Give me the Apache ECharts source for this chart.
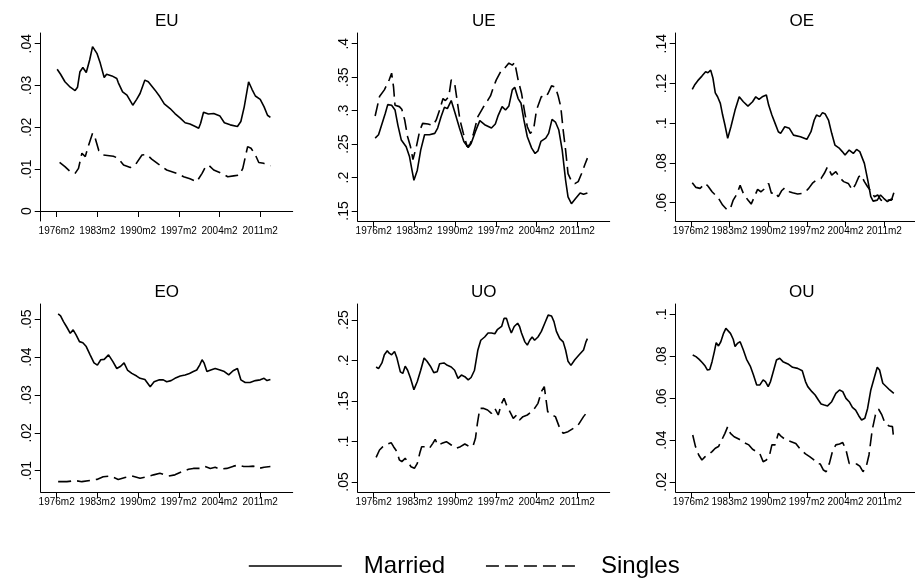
<!DOCTYPE html>
<html>
<head>
<meta charset="utf-8">
<script src="https://cdn.jsdelivr.net/npm/echarts@6/dist/echarts.min.js"></script>
<style>
  html, body { margin: 0; padding: 0; background: #fff; }
  #chart { width: 915px; height: 582px; }
</style>
</head>
<body>
<div id="chart"></div>
<script>
// Monthly transition rates, x = Stata monthly date (1960m1 = 0), y = rate

// Month ticks on every x axis: 1976m2, 1983m2, ... 2011m2
const monthTicks = [193, 277, 361, 445, 529, 613];

// Y tick values per panel
const euTicks = [0, 0.01, 0.02, 0.03, 0.04];
const ueTicks = [0.15, 0.2, 0.25, 0.3, 0.35, 0.4];
const oeTicks = [0.06, 0.08, 0.1, 0.12, 0.14];
const eoTicks = [0.01, 0.02, 0.03, 0.04, 0.05];
const uoTicks = [0.05, 0.1, 0.15, 0.2, 0.25];
const ouTicks = [0.02, 0.04, 0.06, 0.08, 0.1];

// EU
const euMarried = [[194,.0339],[201,.0327],[210,.0309],[221,.0296],[231,.0288],[236,.0296],[241,.0333],[247,.0343],[254,.0331],[261,.0361],[267,.0393],[276,.0377],[283,.0353],[291,.0319],[296,.0327],[307,.0323],[317,.0317],[320,.0307],[329,.0285],[338,.0277],[350,.0253],[358,.0267],[365,.0281],[375,.0313],[382,.0309],[389,.0299],[396,.0289],[406,.0273],[415,.0256],[427,.0245],[437,.0233],[448,.0222],[458,.0211],[468,.0208],[479,.0202],[486,.0198],[490,.0210],[496,.0236],[506,.0232],[517,.0233],[530,.0227],[539,.0211],[551,.0206],[566,.0202],[573,.0214],[580,.0249],[589,.0309],[596,.0291],[603,.0275],[613,.0267],[621,.0249],[628,.0229],[634,.0224]];
const euSingles = [[199,.0116],[210,.0106],[221,.0094],[231,.0090],[238,.0102],[245,.0138],[252,.0130],[258,.0154],[267,.0186],[272,.0176],[280,.0144],[289,.0134],[310,.0131],[320,.0126],[331,.0110],[345,.0104],[355,.0110],[369,.0134],[379,.0135],[389,.0124],[403,.0112],[420,.0098],[441,.0090],[455,.0082],[468,.0077],[482,.0070],[493,.0090],[501,.0108],[508,.0108],[517,.0098],[534,.0090],[546,.0082],[558,.0084],[570,.0086],[577,.0102],[587,.0154],[594,.0150],[603,.0134],[610,.0116],[620,.0114],[634,.0108]];

// UE
const ueMarried = [[196,.259],[203,.264],[210,.280],[217,.296],[222,.309],[230,.308],[237,.301],[243,.278],[250,.256],[260,.246],[267,.231],[272,.211],[276,.196],[283,.211],[290,.241],[298,.264],[308,.264],[319,.266],[325,.274],[332,.291],[339,.305],[345,.303],[353,.315],[361,.296],[370,.274],[379,.254],[388,.245],[394,.251],[403,.269],[412,.285],[422,.279],[436,.274],[444,.280],[450,.293],[458,.306],[465,.301],[472,.307],[479,.331],[484,.335],[491,.318],[497,.311],[503,.286],[510,.261],[519,.244],[526,.236],[532,.240],[538,.254],[548,.259],[554,.266],[561,.287],[568,.283],[575,.271],[582,.241],[589,.196],[594,.171],[601,.161],[610,.169],[619,.177],[626,.175],[630,.174],[634,.177]];
const ueSingles = [[196,.292],[205,.321],[215,.331],[225,.346],[230,.356],[234,.335],[237,.308],[246,.306],[251,.302],[257,.286],[263,.261],[269,.246],[274,.227],[281,.246],[288,.270],[294,.281],[305,.280],[315,.278],[322,.286],[329,.301],[336,.318],[341,.315],[348,.321],[353,.346],[360,.341],[365,.316],[371,.286],[378,.266],[386,.246],[392,.250],[399,.266],[408,.291],[419,.305],[428,.315],[434,.322],[440,.335],[446,.346],[457,.361],[463,.363],[472,.371],[479,.368],[484,.372],[491,.346],[498,.326],[505,.296],[510,.276],[516,.266],[523,.272],[529,.301],[539,.321],[548,.320],[553,.326],[560,.337],[568,.335],[574,.321],[579,.306],[584,.271],[589,.241],[594,.206],[601,.195],[608,.191],[615,.194],[622,.206],[629,.220],[634,.229]];

// OE
const oeMarried = [[196,.1170],[201,.1192],[208,.1214],[217,.1237],[225,.1259],[230,.1254],[236,.1267],[241,.1226],[246,.1153],[251,.1133],[257,.1100],[262,.1041],[267,.0991],[273,.0924],[280,.0982],[289,.1066],[298,.1133],[307,.1108],[317,.1086],[327,.1108],[334,.1133],[341,.1120],[348,.1133],[357,.1142],[362,.1091],[369,.1041],[376,.0999],[383,.0957],[388,.0949],[397,.0982],[407,.0974],[416,.0940],[431,.0932],[445,.0919],[454,.0957],[461,.1016],[466,.1041],[473,.1033],[479,.1053],[485,.1046],[492,.1016],[499,.0949],[506,.0890],[516,.0873],[522,.0857],[528,.0840],[537,.0865],[546,.0848],[553,.0868],[560,.0857],[570,.0798],[578,.0706],[584,.0630],[589,.0608],[598,.0613],[605,.0639],[612,.0622],[620,.0605],[627,.0617],[632,.0617]];
const oeSingles = [[196,.0700],[204,.0677],[213,.0672],[224,.0697],[230,.0684],[239,.0655],[246,.0639],[253,.0622],[262,.0588],[272,.0563],[279,.0571],[285,.0613],[293,.0644],[300,.0687],[307,.0647],[317,.0613],[324,.0593],[331,.0630],[338,.0667],[345,.0655],[354,.0672],[362,.0697],[368,.0647],[375,.0655],[383,.0630],[390,.0660],[397,.0675],[407,.0655],[414,.0650],[425,.0644],[435,.0647],[442,.0655],[449,.0672],[458,.0700],[466,.0714],[476,.0722],[483,.0748],[490,.0781],[499,.0739],[508,.0756],[516,.0727],[525,.0706],[535,.0697],[544,.0664],[551,.0694],[558,.0731],[563,.0739],[570,.0706],[577,.0680],[585,.0655],[592,.0630],[599,.0639],[606,.0613],[615,.0605],[622,.0613],[629,.0613],[634,.0650]];

// EO
const eoMarried = [[196,.0514],[201,.0509],[207,.0494],[214,.0479],[221,.0463],[227,.0472],[233,.0459],[240,.0441],[247,.0438],[254,.0428],[262,.0406],[270,.0385],[277,.0379],[284,.0393],[291,.0394],[300,.0406],[309,.0388],[317,.0370],[325,.0376],[332,.0385],[339,.0366],[348,.0357],[358,.0350],[365,.0344],[375,.0341],[386,.0322],[394,.0335],[405,.0340],[413,.0340],[420,.0335],[429,.0338],[437,.0344],[448,.0350],[458,.0353],[467,.0357],[475,.0362],[482,.0366],[488,.0379],[493,.0393],[497,.0385],[503,.0362],[511,.0366],[520,.0370],[530,.0366],[539,.0362],[548,.0353],[557,.0364],[566,.0370],[573,.0340],[582,.0333],[592,.0333],[603,.0338],[613,.0340],[621,.0344],[627,.0338],[634,.0341]];
const eoSingles = [[196,.0071],[214,.0071],[231,.0074],[245,.0071],[262,.0074],[276,.0077],[289,.0084],[303,.0086],[320,.0077],[334,.0082],[348,.0086],[365,.0080],[379,.0084],[393,.0089],[406,.0093],[424,.0086],[437,.0089],[451,.0097],[465,.0104],[475,.0106],[489,.0106],[499,.0111],[510,.0106],[520,.0109],[530,.0104],[544,.0106],[558,.0112],[568,.0115],[579,.0111],[589,.0111],[599,.0112],[610,.0106],[621,.0109],[634,.0111]];

// UO
const uoMarried = [[198,.192],[203,.190],[210,.197],[215,.207],[221,.212],[225,.209],[230,.207],[236,.211],[241,.203],[248,.186],[253,.184],[258,.193],[263,.188],[269,.178],[276,.164],[283,.174],[290,.188],[297,.203],[303,.199],[310,.193],[317,.185],[324,.186],[329,.196],[338,.197],[345,.194],[353,.192],[360,.188],[367,.178],[374,.182],[381,.180],[388,.176],[394,.179],[401,.188],[408,.213],[414,.225],[422,.229],[429,.234],[436,.234],[443,.233],[448,.238],[457,.242],[462,.252],[467,.252],[472,.242],[477,.234],[483,.242],[490,.246],[494,.242],[498,.234],[505,.223],[510,.219],[515,.225],[520,.229],[525,.225],[532,.229],[539,.236],[546,.246],[553,.256],[560,.255],[565,.248],[570,.236],[577,.227],[584,.223],[589,.213],[594,.199],[600,.194],[608,.201],[617,.207],[626,.213],[631,.223],[634,.227]];
const uoSingles = [[198,.0805],[205,.0895],[212,.0936],[221,.0969],[229,.0986],[234,.0936],[241,.0874],[246,.0772],[251,.0751],[258,.0792],[263,.0751],[270,.0689],[277,.0669],[283,.0730],[288,.0854],[292,.0936],[301,.0936],[308,.0916],[315,.0977],[320,.1027],[325,.0957],[334,.0977],[343,.0998],[353,.0957],[363,.0916],[372,.0936],[381,.0969],[391,.0936],[398,.0944],[403,.1039],[407,.1224],[412,.1409],[419,.1409],[428,.1389],[436,.1348],[443,.1409],[450,.1327],[457,.1471],[462,.1533],[467,.1451],[474,.1368],[481,.1286],[488,.1327],[494,.1265],[501,.1307],[510,.1327],[519,.1368],[525,.1409],[532,.1471],[539,.1615],[545,.1677],[552,.1368],[560,.1327],[568,.1307],[577,.1163],[584,.1101],[594,.1121],[605,.1163],[615,.1204],[626,.1307],[634,.1368]];

// OU
const ouMarried = [[197,.0806],[204,.0798],[211,.0785],[218,.0769],[224,.0753],[229,.0734],[234,.0737],[239,.0774],[244,.0822],[248,.0865],[253,.0849],[258,.0869],[264,.0909],[269,.0933],[273,.0928],[279,.0909],[285,.0881],[289,.0846],[294,.0861],[300,.0869],[307,.0830],[314,.0785],[322,.0753],[329,.0710],[336,.0663],[343,.0663],[350,.0687],[355,.0679],[361,.0655],[366,.0679],[373,.0734],[379,.0782],[386,.0790],[393,.0774],[404,.0763],[414,.0747],[425,.0742],[435,.0731],[442,.0679],[447,.0655],[456,.0631],[463,.0615],[470,.0591],[476,.0572],[483,.0567],[490,.0563],[499,.0583],[508,.0623],[516,.0639],[523,.0631],[530,.0599],[537,.0583],[544,.0556],[551,.0543],[558,.0515],[564,.0496],[571,.0504],[577,.0551],[584,.0639],[591,.0694],[598,.0747],[603,.0734],[610,.0671],[619,.0652],[625,.0639],[634,.0623]];
const ouSingles = [[197,.0424],[203,.0369],[210,.0329],[217,.0305],[224,.0321],[230,.0329],[239,.0345],[246,.0361],[253,.0369],[260,.0400],[267,.0432],[273,.0464],[279,.0432],[287,.0416],[298,.0404],[308,.0388],[319,.0377],[327,.0356],[336,.0345],[343,.0334],[350,.0297],[357,.0305],[364,.0329],[369,.0377],[376,.0377],[383,.0432],[390,.0416],[400,.0400],[411,.0392],[421,.0384],[431,.0356],[442,.0334],[451,.0321],[459,.0308],[467,.0289],[474,.0286],[481,.0257],[487,.0249],[494,.0289],[501,.0349],[508,.0377],[516,.0381],[523,.0388],[530,.0353],[537,.0289],[544,.0286],[553,.0286],[560,.0276],[567,.0249],[574,.0273],[580,.0329],[587,.0448],[594,.0520],[601,.0547],[608,.0520],[615,.0480],[624,.0467],[631,.0464],[634,.0400]];

// Panel layout: two rows of three small multiples
const FONT = '"Liberation Sans", Arial, Helvetica, sans-serif';
const colLeft = [40.7, 357.7, 675.7];
const rowTop = [33, 304];
const plotW = 252, plotH = 188;

const panels = [
  { name: 'EU', married: euMarried, singles: euSingles, ticks: euTicks, min: -0.00239, max: 0.04256 },
  { name: 'UE', married: ueMarried, singles: ueSingles, ticks: ueTicks, min: 0.1351, max: 0.416 },
  { name: 'OE', married: oeMarried, singles: oeSingles, ticks: oeTicks, min: 0.05079, max: 0.14538 },
  { name: 'EO', married: eoMarried, singles: eoSingles, ticks: eoTicks, min: 0.00437, max: 0.05404 },
  { name: 'UO', married: uoMarried, singles: uoSingles, ticks: uoTicks, min: 0.03765, max: 0.26975 },
  { name: 'OU', married: ouMarried, singles: ouSingles, ticks: ouTicks, min: 0.01523, max: 0.10491 }
];

const monthLabel = v => (1960 + Math.floor(v / 12)) + 'm' + (v % 12 + 1);
const rateLabel = v => (v === 0 ? '0' : String(v).replace(/^0\./, '.'));

const axisLineStyle = { color: '#000', width: 1 };

const grid = [], xAxis = [], yAxis = [], series = [], title = [];

panels.forEach((p, i) => {
  const left = colLeft[i % 3];
  const top = rowTop[Math.floor(i / 3)];
  grid.push({ left: left, top: top, width: plotW, height: plotH, containLabel: false });

  title.push({
    text: p.name,
    left: left + plotW / 2,
    top: top - 20,
    textAlign: 'center',
    padding: 0,
    textStyle: { fontFamily: FONT, fontSize: 17, fontWeight: 'normal', color: '#000' }
  });

  xAxis.push({
    type: 'value', gridIndex: i, min: 160, max: 680,
    axisLine: { show: true, lineStyle: axisLineStyle },
    axisTick: { show: true, length: 6, customValues: monthTicks, lineStyle: axisLineStyle },
    axisLabel: { customValues: monthTicks, formatter: monthLabel, fontFamily: FONT, fontSize: 10, color: '#000', margin: 5 },
    splitLine: { show: false }
  });

  yAxis.push({
    type: 'value', gridIndex: i, min: p.min, max: p.max,
    axisLine: { show: true, lineStyle: axisLineStyle },
    axisTick: { show: true, length: 6, customValues: p.ticks, lineStyle: axisLineStyle },
    axisLabel: { customValues: p.ticks, formatter: rateLabel, rotate: 90, fontFamily: FONT, fontSize: 14, color: '#000', margin: 7 },
    splitLine: { show: false }
  });

  series.push({
    name: 'Married', type: 'line', xAxisIndex: i, yAxisIndex: i, data: p.married,
    symbol: 'none', showSymbol: false, silent: true,
    lineStyle: { color: '#000', width: 1.6, type: 'solid' },
    itemStyle: { color: '#000' }
  });
  series.push({
    name: 'Singles', type: 'line', xAxisIndex: i, yAxisIndex: i, data: p.singles,
    symbol: 'none', showSymbol: false, silent: true,
    lineStyle: { color: '#000', width: 1.6, type: [13, 6] },
    itemStyle: { color: '#000' }
  });
});

const chart = echarts.init(document.getElementById('chart'), null, { renderer: 'canvas' });
chart.setOption({
  animation: false,
  backgroundColor: '#fff',
  title: title,
  grid: grid,
  xAxis: xAxis,
  yAxis: yAxis,
  series: series,
  legend: {
    data: ['Married', 'Singles'],
    left: 248, top: 554, padding: 0,
    itemWidth: 93, itemHeight: 14, itemGap: 40,
    selectedMode: false,
    itemStyle: { opacity: 0 },
    lineStyle: { width: 1.6 },
    textStyle: { fontFamily: FONT, fontSize: 24, color: '#000', padding: [0, 0, 0, 17] }
  }
});
</script>
</body>
</html>
